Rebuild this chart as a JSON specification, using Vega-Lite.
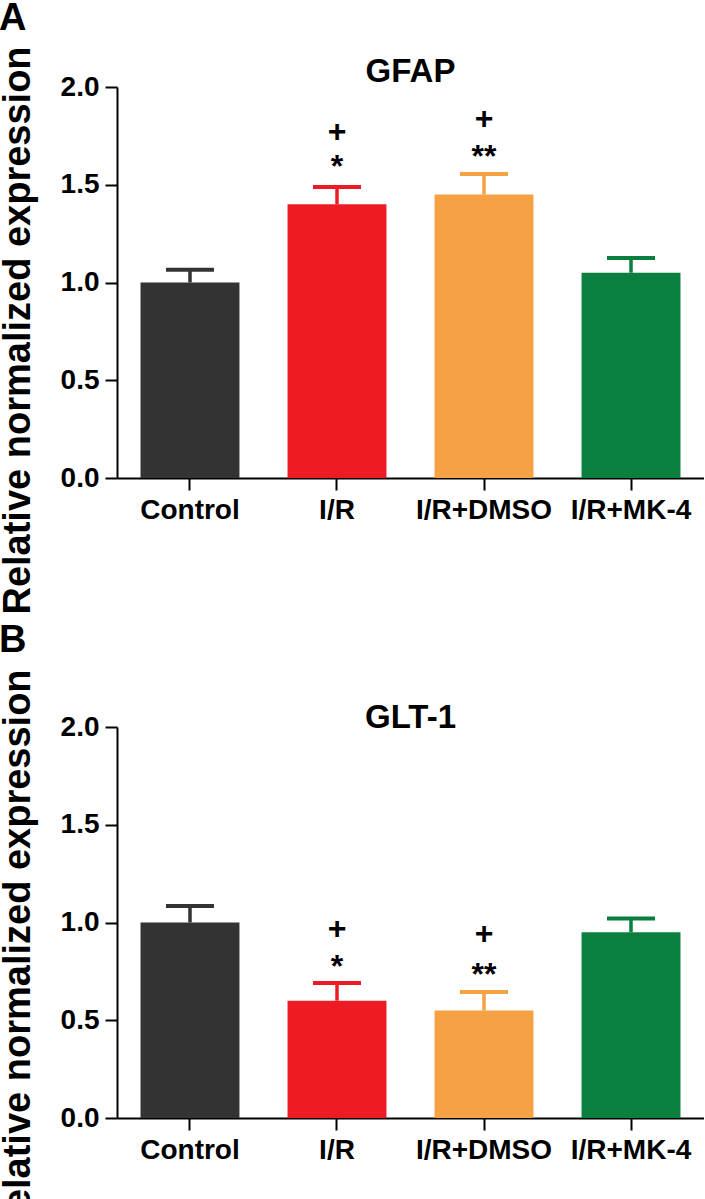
{
  "$schema": "https://vega.github.io/schema/vega-lite/v6.json",
  "padding": {"left": -2, "top": -1, "right": 0, "bottom": 0},
  "background": "white",
  "config": {
    "view": {"stroke": null},
    "font": "Liberation Sans",
    "axis": {
      "domainColor": "black", "domainWidth": 2, "tickColor": "black", "tickWidth": 2, "tickSize": 12,
      "labelFont": "Liberation Sans", "labelFontWeight": "bold", "labelFontSize": 28, "labelColor": "black",
      "titleFont": "Liberation Sans", "titleFontWeight": "bold", "titleFontSize": 38, "titleColor": "black",
      "grid": false
    },
    "title": {"font": "Liberation Sans", "fontWeight": "bold", "color": "black"}
  },
  "spacing": 6,
  "vconcat": [
    {
      "title": {"text": "A", "anchor": "start", "frame": "bounds", "fontSize": 38, "offset": 8},
      "vconcat": [
        {
          "title": {"text": "GFAP", "fontSize": 33, "anchor": "middle", "frame": "group", "offset": -43},
          "width": 587, "height": 391,
          "layer": [
            {
              "data": {"values": [
                {"group": "Control", "mean": 1.0, "upper": 1.065},
                {"group": "I/R", "mean": 1.40, "upper": 1.488},
                {"group": "I/R+DMSO", "mean": 1.45, "upper": 1.555},
                {"group": "I/R+MK-4", "mean": 1.05, "upper": 1.125}
              ]},
              "layer": [
                {"mark": {"type": "bar"},
                 "encoding": {
                   "x": {"field": "group", "type": "nominal", "sort": null, "scale": {"paddingInner": 0.327, "paddingOuter": 0.16},
                         "axis": {"title": null, "labelAngle": 0, "labelPadding": 6, "labelLimit": 0}},
                   "y": {"field": "mean", "type": "quantitative", "scale": {"domain": [0, 2]},
                         "axis": {"title": "Relative normalized expression", "values": [0, 0.5, 1, 1.5, 2], "format": ".1f", "labelPadding": 6, "titleX": -80, "titleY": 243}},
                   "color": {"field": "group", "type": "nominal", "sort": null, "legend": null,
                             "scale": {"domain": ["Control", "I/R", "I/R+DMSO", "I/R+MK-4"], "range": ["#333333", "#ED1C24", "#F7A145", "#0B7F40"]}}
                 }},
                {"mark": {"type": "rule", "strokeWidth": 3.5},
                 "encoding": {
                   "x": {"field": "group", "type": "nominal", "sort": null},
                   "y": {"field": "mean", "type": "quantitative"},
                   "y2": {"field": "upper"},
                   "color": {"field": "group", "type": "nominal", "sort": null, "legend": null}
                 }},
                {"mark": {"type": "tick", "size": 48, "thickness": 4, "opacity": 1},
                 "encoding": {
                   "x": {"field": "group", "type": "nominal", "sort": null},
                   "y": {"field": "upper", "type": "quantitative"},
                   "color": {"field": "group", "type": "nominal", "sort": null, "legend": null}
                 }}
              ]
            },
            {
              "data": {"values": [
                {"group": "I/R", "pos": 1.72, "label": "+"},
                {"group": "I/R", "pos": 1.54, "label": "*"},
                {"group": "I/R+DMSO", "pos": 1.786, "label": "+"},
                {"group": "I/R+DMSO", "pos": 1.59, "label": "**"}
              ]},
              "mark": {"type": "text", "fontSize": 32, "fontWeight": "bold", "baseline": "alphabetic", "color": "black"},
              "encoding": {
                "x": {"field": "group", "type": "nominal", "sort": null},
                "y": {"field": "pos", "type": "quantitative"},
                "text": {"field": "label"}
              }
            }
          ]
        }
      ]
    },
    {
      "title": {"text": "B", "anchor": "start", "frame": "bounds", "fontSize": 38, "offset": 9},
      "vconcat": [
        {
          "title": {"text": "GLT-1", "fontSize": 33, "anchor": "middle", "frame": "group", "offset": -66},
          "width": 587, "height": 391,
          "layer": [
            {
              "data": {"values": [
                {"group": "Control", "mean": 1.0, "upper": 1.085},
                {"group": "I/R", "mean": 0.60, "upper": 0.69},
                {"group": "I/R+DMSO", "mean": 0.55, "upper": 0.644},
                {"group": "I/R+MK-4", "mean": 0.95, "upper": 1.02}
              ]},
              "layer": [
                {"mark": {"type": "bar"},
                 "encoding": {
                   "x": {"field": "group", "type": "nominal", "sort": null, "scale": {"paddingInner": 0.327, "paddingOuter": 0.16},
                         "axis": {"title": null, "labelAngle": 0, "labelPadding": 6, "labelLimit": 0}},
                   "y": {"field": "mean", "type": "quantitative", "scale": {"domain": [0, 2]},
                         "axis": {"title": "Relative normalized expression", "values": [0, 0.5, 1, 1.5, 2], "format": ".1f", "labelPadding": 6, "titleX": -80, "titleY": 226}},
                   "color": {"field": "group", "type": "nominal", "sort": null, "legend": null,
                             "scale": {"domain": ["Control", "I/R", "I/R+DMSO", "I/R+MK-4"], "range": ["#333333", "#ED1C24", "#F7A145", "#0B7F40"]}}
                 }},
                {"mark": {"type": "rule", "strokeWidth": 3.5},
                 "encoding": {
                   "x": {"field": "group", "type": "nominal", "sort": null},
                   "y": {"field": "mean", "type": "quantitative"},
                   "y2": {"field": "upper"},
                   "color": {"field": "group", "type": "nominal", "sort": null, "legend": null}
                 }},
                {"mark": {"type": "tick", "size": 48, "thickness": 4, "opacity": 1},
                 "encoding": {
                   "x": {"field": "group", "type": "nominal", "sort": null},
                   "y": {"field": "upper", "type": "quantitative"},
                   "color": {"field": "group", "type": "nominal", "sort": null, "legend": null}
                 }}
              ]
            },
            {
              "data": {"values": [
                {"group": "I/R", "pos": 0.918, "label": "+"},
                {"group": "I/R", "pos": 0.72, "label": "*"},
                {"group": "I/R+DMSO", "pos": 0.89, "label": "+"},
                {"group": "I/R+DMSO", "pos": 0.68, "label": "**"}
              ]},
              "mark": {"type": "text", "fontSize": 32, "fontWeight": "bold", "baseline": "alphabetic", "color": "black"},
              "encoding": {
                "x": {"field": "group", "type": "nominal", "sort": null},
                "y": {"field": "pos", "type": "quantitative"},
                "text": {"field": "label"}
              }
            }
          ]
        }
      ]
    }
  ]
}
